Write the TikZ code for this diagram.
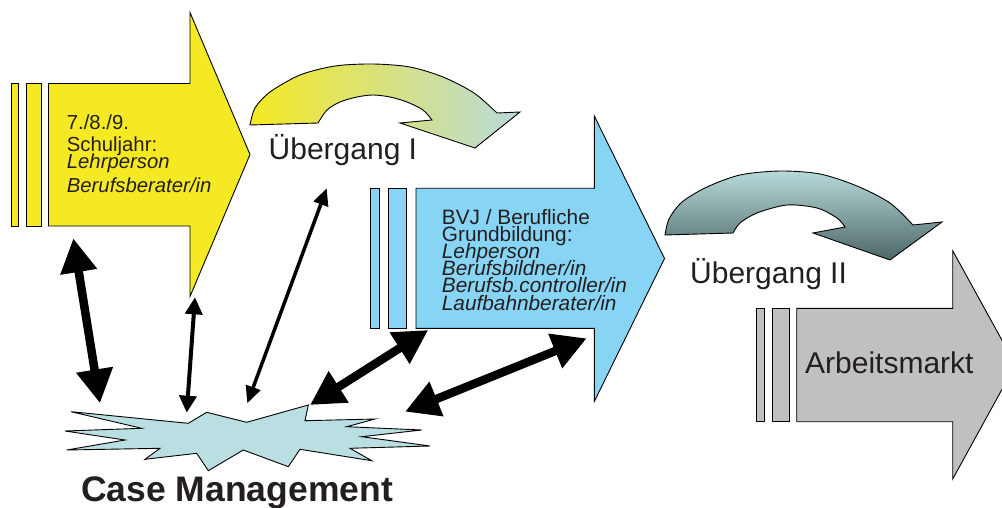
\documentclass[tikz,border=0pt]{standalone}
\usepackage{fontspec}
\setmainfont{Liberation Sans}
\usetikzlibrary{arrows.meta}
\definecolor{ylw}{HTML}{F5E924}
\definecolor{blu}{HTML}{87D4F4}
\definecolor{gry}{HTML}{C0C0C0}
\definecolor{star}{HTML}{B9DFE3}
\definecolor{txt}{HTML}{231F20}
\definecolor{tealL}{HTML}{B8DADA}
\definecolor{tealD}{HTML}{4C6666}
\tikzset{
  outl/.style={draw=black, line width=0.9pt, line join=miter},
  lbl/.style={inner sep=0pt, anchor=base west, text=txt},
  bigdbl/.style={line width=8.5pt, arrows={Triangle[width=35pt,length=34pt]-Triangle[width=35pt,length=34pt]}},
  middbl/.style={line width=4pt, arrows={Triangle[width=17pt,length=17pt]-Triangle[width=17pt,length=17pt]}},
  thindbl/.style={line width=3.5pt, arrows={Triangle[width=15pt,length=17pt]-Triangle[width=15pt,length=17pt]}}
}
\begin{document}
\begin{tikzpicture}[x=1pt,y=-1pt]
\useasboundingbox (0,0) rectangle (1002,508);
\clip (0,0) rectangle (1002,508);
% yellow arrow
\draw[outl, fill=ylw] (48.5,83.5) -- (190,83.5) -- (190,12.5) -- (250,154.5) -- (190,296.5) -- (190,226) -- (48.5,226) -- cycle;
\draw[outl, fill=ylw] (11,83.5) rectangle (18.3,226);
\draw[outl, fill=ylw] (26,83.5) rectangle (41,226);
% blue arrow
\draw[outl, fill=blu] (416,188.3) -- (594.3,188.3) -- (594.3,116) -- (664.5,258.5) -- (594.3,401.5) -- (594.3,328.3) -- (416,328.3) -- cycle;
\draw[outl, fill=blu] (370,188.3) rectangle (379.3,328.3);
\draw[outl, fill=blu] (388.3,188.3) rectangle (406.7,328.3);
% gray arrow
\draw[outl, fill=gry] (796.7,308.3) -- (952.7,308.3) -- (952.7,250.7) -- (1015.5,364.8) -- (952.7,479) -- (952.7,421.7) -- (796.7,421.7) -- cycle;
\draw[outl, fill=gry] (756,308.3) rectangle (764.3,421.7);
\draw[outl, fill=gry] (772.3,308.3) rectangle (789,421.7);
% curved arrow I
\draw[outl, left color=ylw, right color=tealL]
  plot[smooth] coordinates {(250,125) (255,108) (270,92) (300,75) (335,66) (373,64) (410,67) (443,77) (474,93) (497,113)}
  -- (520,112) -- (475,148) -- (400,123)
  -- plot[smooth] coordinates {(432,120) (423,110) (407,102) (390,97) (373,95) (357,97) (340,102) (327,110) (318,123)}
  -- cycle;
% curved arrow II
\draw[outl, top color=tealL, bottom color=tealD]
  plot[smooth] coordinates {(665,235) (669,219) (682,202) (707,187) (740,175) (780,171) (820,174) (857,186) (890,203) (913,225)}
  -- (942,222) -- (890,260) -- (813,233)
  -- plot[smooth] coordinates {(845,227) (837,218) (817,208) (787,205) (757,213) (740,223) (733,233)}
  -- cycle;
% star
\draw[outl, fill=star] (71,411.7) -- (188.3,423.3) -- (206.7,412.3) -- (246.7,422.3) -- (308.3,405) -- (305,420.7) -- (375,419) -- (346.7,426.7) -- (421.7,430) -- (361.7,436.7) -- (430,446) -- (350,448.3) -- (371.7,460.7) -- (300,449.3) -- (288.3,466.7) -- (243.3,450) -- (208.3,470.7) -- (196.7,453.3) -- (145,459.3) -- (160,448.3) -- (66.7,450) -- (125,440) -- (65,431) -- (141.7,428.3) -- cycle;
% texts
\node[lbl, font=\fontsize{20.3}{24}\selectfont] (y1) at (66.7,130) {7./8./9.};
\node[lbl, font=\fontsize{20.3}{24}\selectfont] (y2) at (66.7,151.7) {Schuljahr:};
\node[lbl, font=\fontsize{20.3}{24}\selectfont\itshape] (y3) at (66.7,169) {Lehrperson};
\node[lbl, font=\fontsize{20.3}{24}\selectfont\itshape] (y4) at (66.7,192.7) {Berufsberater/in};
\node[lbl, font=\fontsize{20.8}{24}\selectfont] (b1) at (441.7,225) {BVJ / Berufliche};
\node[lbl, font=\fontsize{20.8}{24}\selectfont] (b2) at (441.7,241.7) {Grundbildung:};
\node[lbl, font=\fontsize{20.8}{24}\selectfont\itshape] (b3) at (441.7,258.3) {Lehperson};
\node[lbl, font=\fontsize{20.8}{24}\selectfont\itshape] (b4) at (441.7,275) {Berufsbildner/in};
\node[lbl, font=\fontsize{20.8}{24}\selectfont\itshape] (b5) at (441.7,292.7) {Berufsb.controller/in};
\node[lbl, font=\fontsize{20.8}{24}\selectfont\itshape] (b6) at (441.7,310) {Laufbahnberater/in};
\node[lbl, font=\fontsize{30}{36}\selectfont] (u1) at (268.5,160) {Übergang I};
\node[lbl, font=\fontsize{30}{36}\selectfont] (u2) at (690,283) {Übergang II};
\node[lbl, font=\fontsize{30}{36}\selectfont] (am) at (805,373.3) {Arbeitsmarkt};
\node[lbl, font=\fontsize{35.5}{40}\selectfont\bfseries] (cm) at (81,501) {Case Management};
% connector end points
\coordinate (a1s) at (73.3,238.3); \coordinate (a1e) at (100,403.3);
\coordinate (a2s) at (195,297.3);  \coordinate (a2e) at (186.7,412.7);
\coordinate (a3s) at (326.7,188.3); \coordinate (a3e) at (247.3,403.3);
\coordinate (a4s) at (428.3,330);  \coordinate (a4e) at (310,405);
\coordinate (a5s) at (586.7,338.3); \coordinate (a5e) at (405,411.7);
\draw[bigdbl] (a1s) -- (a1e);
\draw[middbl] (a2s) -- (a2e);
\draw[thindbl] (a3s) -- (a3e);
\draw[bigdbl] (a4s) -- (a4e);
\draw[bigdbl] (a5s) -- (a5e);
\end{tikzpicture}
\end{document}
